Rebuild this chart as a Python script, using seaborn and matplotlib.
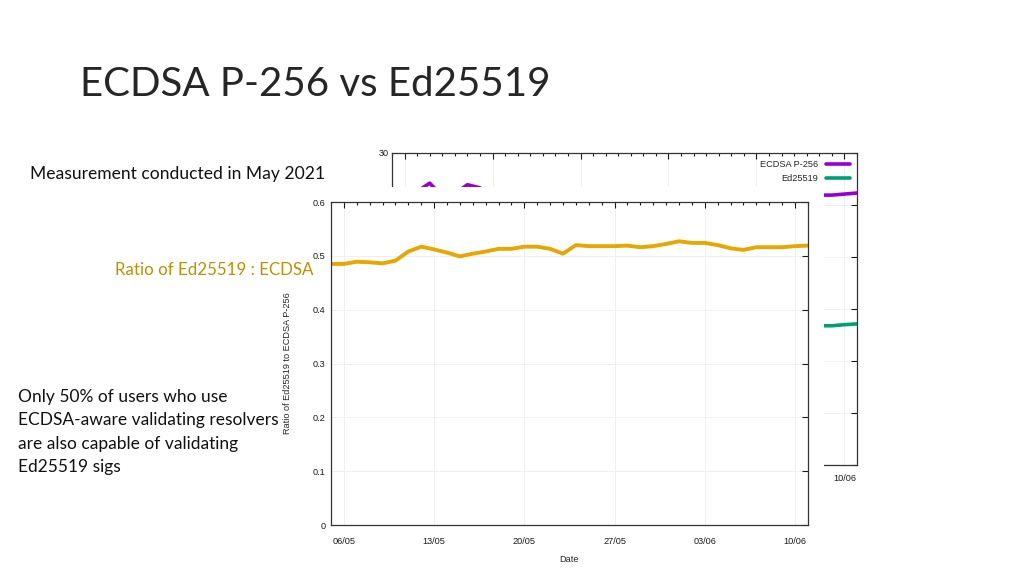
import numpy as np
import pandas as pd
import seaborn as sns
import matplotlib.pyplot as plt
import matplotlib.dates as mdates
from matplotlib.patches import Rectangle

# --- data ---
dates = pd.date_range("2021-05-05", "2021-06-11", freq="D")

ratio = [0.485, 0.485, 0.489, 0.488, 0.486, 0.491, 0.508, 0.517, 0.512, 0.506,
         0.499, 0.504, 0.508, 0.513, 0.513, 0.517, 0.517, 0.513, 0.504, 0.520,
         0.518, 0.518, 0.518, 0.519, 0.516, 0.518, 0.522, 0.527, 0.524, 0.524,
         0.520, 0.514, 0.511, 0.516, 0.516, 0.516, 0.518, 0.519]

# background chart (mostly hidden behind the ratio chart)
ecdsa = [25.9, 26.1, 26.3, 27.1, 25.85, 26.08, 26.95, 26.65, 25.9, 25.7,
         25.4, 25.6, 25.8, 25.9, 26.0, 25.9, 25.8, 25.6, 25.3, 25.7,
         25.9, 26.0, 25.8, 25.9, 25.7, 25.8, 26.0, 26.2, 26.1, 26.0,
         25.9, 25.7, 25.8, 25.9, 25.95, 25.95, 26.05, 26.15]
ed25519 = [12.56, 12.66, 12.86, 13.22, 12.56, 12.81, 13.69, 13.78, 13.26, 13.00,
           12.67, 12.90, 13.11, 13.29, 13.34, 13.39, 13.34, 13.13, 12.75, 13.36,
           13.42, 13.47, 13.36, 13.44, 13.26, 13.36, 13.57, 13.81, 13.68, 13.62,
           13.47, 13.21, 13.18, 13.36, 13.39, 13.39, 13.49, 13.57]

week_ticks = pd.to_datetime(["2021-05-06", "2021-05-13", "2021-05-20",
                             "2021-05-27", "2021-06-03", "2021-06-10"])

df_ratio = pd.DataFrame({"Date": dates, "Ratio": ratio})
df_bg = pd.DataFrame({"Date": list(dates) * 2,
                      "Count": ecdsa + ed25519,
                      "Series": ["ECDSA P-256"] * len(dates) + ["Ed25519"] * len(dates)})

sns.set_theme(style="white")
plt.rcParams["font.family"] = ["Liberation Sans", "DejaVu Sans"]

fig = plt.figure(figsize=(10.24, 5.76), dpi=100)
fig.patch.set_facecolor("white")

slide_font = ["Lato", "DejaVu Sans"]


def style_gnuplot(ax, ylo, yhi, ystep, xpad, ypad):
    # gnuplot-ish frame: inward ticks on all sides, daily minor ticks, faint grid
    ax.set_xlim(dates[0], dates[-1])
    ax.set_ylim(ylo, yhi)
    ax.set_xticks(week_ticks)
    ax.xaxis.set_major_formatter(mdates.DateFormatter("%d/%m"))
    ax.xaxis.set_minor_locator(mdates.DayLocator())
    ax.set_yticks(np.arange(ylo, yhi + ystep / 2, ystep))
    ax.tick_params(axis="both", which="both", direction="in", top=True, right=True,
                   labelsize=6.6, colors="#1a1a1a", width=0.8)
    ax.tick_params(axis="both", which="major", length=4)
    ax.tick_params(axis="x", which="minor", length=2.2)
    ax.tick_params(axis="x", pad=xpad)
    ax.tick_params(axis="y", pad=ypad)
    ax.grid(True, which="major", color="#ececec", linewidth=0.6)
    for sp in ax.spines.values():
        sp.set_color("#333333")
        sp.set_linewidth(0.9)


# --- background chart: counts per day ---
ax_bg = fig.add_axes([0.3828, 0.1927, 0.4541, 0.5417], zorder=0)
sns.lineplot(data=df_bg, x="Date", y="Count", hue="Series",
             palette=["#9400D3", "#009E73"], linewidth=2.6, ax=ax_bg)
style_gnuplot(ax_bg, 0, 30, 5, 6.5, 2.5)
ax_bg.set_xlabel("")
ax_bg.set_ylabel("")
ax_bg.legend(loc="upper right", frameon=False, fontsize=6.6, markerfirst=False,
             handlelength=2.6, labelspacing=0.5, borderaxespad=0.4, title=None)

# white panel that the ratio chart sits on
fig.add_artist(Rectangle((0.2734, 0), 0.531, 0.675, transform=fig.transFigure,
                         facecolor="white", edgecolor="none", zorder=1))

# --- foreground chart: ratio ---
ax = fig.add_axes([0.3232, 0.0885, 0.4658, 0.5608], zorder=2)
ax.patch.set_alpha(0)
sns.lineplot(data=df_ratio, x="Date", y="Ratio", color="#E6A800", linewidth=2.8, ax=ax)
style_gnuplot(ax, 0, 0.6, 0.1, 8.5, 4)
ax.set_yticklabels(["0", "0.1", "0.2", "0.3", "0.4", "0.5", "0.6"])
ax.set_xlabel("Date", fontsize=6.6)
ax.set_ylabel("Ratio of Ed25519 to ECDSA P-256", fontsize=6.6)
ax.xaxis.set_label_coords(0.5, -0.092)
ax.yaxis.set_label_coords(-0.082, 0.5)

# --- slide text ---
fig.text(80 / 1024, 1 - 85 / 576, "ECDSA P-256 vs Ed25519", family=slide_font,
         fontsize=29, fontweight="normal", va="center", ha="left", color="#262626")
fig.text(30 / 1024, 1 - 174 / 576, "Measurement conducted in May 2021",
         family=slide_font, fontsize=12.6, va="center", ha="left", color="#111111")
fig.text(115 / 1024, 1 - 270 / 576, "Ratio of Ed25519 : ECDSA", family=slide_font,
         fontsize=12.2, va="center", ha="left", color="#BF9000", zorder=5)
fig.text(18 / 1024, 1 - 389 / 576,
         "Only 50% of users who use\nECDSA-aware validating resolvers\n"
         "are also capable of validating\nEd25519 sigs",
         family=slide_font, fontsize=12.5, va="top", ha="left", color="#111111",
         linespacing=1.56)

fig.savefig("out.png", dpi=100)
